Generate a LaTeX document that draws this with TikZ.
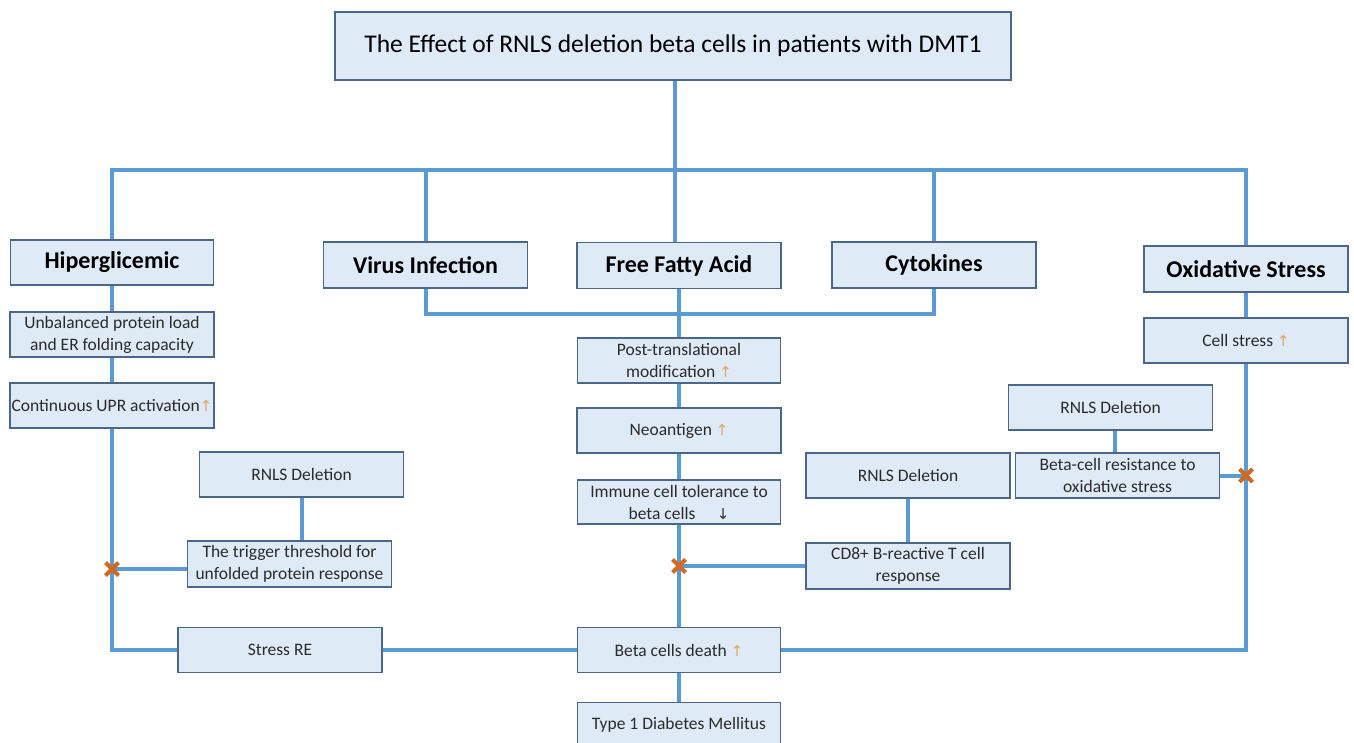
\documentclass[tikz,border=0pt]{standalone}
\usepackage{fontspec}
\setmainfont{Carlito}
\newfontfamily\arrowfont{DejaVu Sans}
\usepackage{xcolor}
\usepackage{tikz}
\usetikzlibrary{positioning, shapes.misc}
\definecolor{boxFill}{HTML}{DEEAF6}
\definecolor{boxBorder}{HTML}{4B6687}
\definecolor{linkBlue}{HTML}{5B9BD5}
\definecolor{markOrange}{HTML}{D2691E}
\definecolor{arrowTan}{HTML}{E2A35E}
\definecolor{textGray}{HTML}{2B2B2B}
\newcommand{\upArrow}{{\arrowfont\fontsize{15}{18}\selectfont\textcolor{arrowTan}{↑}}}
\newcommand{\downArrow}{{\arrowfont\fontsize{15}{18}\selectfont\textcolor{textGray}{↓}}}
\tikzstyle{effectBox}=[draw=boxBorder, fill=boxFill, line width=1.5pt, minimum width=204pt, minimum height=45pt, inner sep=1pt, align=center, text=textGray, font=\fontsize{17.5}{22}\selectfont]
\tikzstyle{causeBox}=[effectBox, text=black, font=\bfseries\fontsize{24}{28}\selectfont]
\tikzstyle{linkLine}=[draw=linkBlue, line width=4pt]
\tikzstyle{blockMark}=[cross out, draw=markOrange, line width=4pt, minimum size=9pt, inner sep=0pt]

\begin{document}
\begin{tikzpicture}[x=1pt, y=-1pt]

    \useasboundingbox (0,0) rectangle (1354,743);

    % nodes

    \node[effectBox, minimum width=676pt, minimum height=68pt, text=black, font=\fontsize{25.5}{30}\selectfont] (title) at (673,46) {The Effect of RNLS deletion beta cells in patients with DMT1};

    \node[causeBox, minimum width=203pt] (hyper) at (112,262.5) {Hiperglicemic};
    \node[causeBox, minimum height=46pt] (virus) at (425.5,265) {Virus Infection};
    \node[causeBox, minimum height=46pt] (ffa) at (679,265.5) {Free Fatty Acid};
    \node[causeBox, minimum height=46pt] (cyto) at (934,265) {Cytokines};
    \node[causeBox, minimum height=46pt] (oxi) at (1246,269) {Oxidative Stress};

    \node[effectBox] (unbal) at (112,334.5) {Unbalanced protein load\\and ER folding capacity};
    \node[effectBox] (upr) at (112,405.5) {Continuous UPR activation\upArrow};
    \node[effectBox] (rnlsA) at (301.5,474.5) {RNLS Deletion};
    \node[effectBox, minimum height=46pt] (trigger) at (289.5,564) {The trigger threshold for\\unfolded protein response};
    \node[effectBox] (stressre) at (280,650) {Stress RE};

    \node[effectBox, minimum width=203pt] (ptm) at (679,360.5) {Post-translational\\modification \upArrow};
    \node[effectBox] (neo) at (679,430.5) {Neoantigen \upArrow};
    \node[effectBox, minimum width=203pt, minimum height=44pt] (immune) at (679,502) {Immune cell tolerance to\\beta cells \quad\downArrow};
    \node[effectBox, minimum width=203pt] (death) at (679,650) {Beta cells death \upArrow};
    \node[effectBox, minimum width=203pt] (t1dm) at (679,725) {Type 1 Diabetes Mellitus};

    \node[effectBox] (rnlsB) at (908,475.5) {RNLS Deletion};
    \node[effectBox, minimum height=46pt] (cd8) at (908,566) {CD8+ B-reactive T cell\\response};

    \node[effectBox] (cellstress) at (1246,340.5) {Cell stress \upArrow};
    \node[effectBox] (rnlsC) at (1110.5,407.5) {RNLS Deletion};
    \node[effectBox] (resist) at (1117.5,475.5) {Beta-cell resistance to\\oxidative stress};

    \coordinate (topbus) at (675,170);
    \coordinate (midbus) at (679,314);

    % transition

    \draw[linkLine] (title.south -| topbus) -- (topbus |- ffa.north);
    \draw[linkLine] (hyper.north) |- (topbus) -| (oxi.north);
    \draw[linkLine] (virus.north) -- (virus.north |- topbus);
    \draw[linkLine] (cyto.north) -- (cyto.north |- topbus);
    \draw[linkLine] (virus.south) |- (midbus) -| (cyto.south);
    \draw[linkLine] (ffa.south) -- (ptm.north);

    \draw[linkLine] (hyper.south) -- (unbal.north);
    \draw[linkLine] (unbal.south) -- (upr.north);
    \draw[linkLine] (rnlsA.south) -- (rnlsA.south |- trigger.north);
    \draw[linkLine] (stressre.east) -- (death.west);

    \draw[linkLine] (ptm.south) -- (neo.north);
    \draw[linkLine] (neo.south) -- (immune.north);
    \draw[linkLine] (death.south) -- (t1dm.north);
    \draw[linkLine] (rnlsB.south) -- (cd8.north);

    \draw[linkLine] (oxi.south) -- (cellstress.north);
    \draw[linkLine] (rnlsC.south -| 1115,0) -- (resist.north -| 1115,0);

    \coordinate (joinA) at (112,569);
    \coordinate (joinB) at (679,566);
    \coordinate (joinC) at (1246,475.5);

    \draw[linkLine] (upr.south) -- (joinA) |- (stressre.west);
    \draw[linkLine] (joinA) -- (joinA -| trigger.west);
    \draw[linkLine] (immune.south) -- (joinB) -- (death.north);
    \draw[linkLine] (joinB) -- (cd8.west);
    \draw[linkLine] (cellstress.south) -- (joinC) |- (death.east);
    \draw[linkLine] (resist.east) -- (joinC);

    \node[blockMark] (markA) at (joinA) {};
    \node[blockMark] (markB) at (joinB) {};
    \node[blockMark] (markC) at (joinC) {};

\end{tikzpicture}
\end{document}
